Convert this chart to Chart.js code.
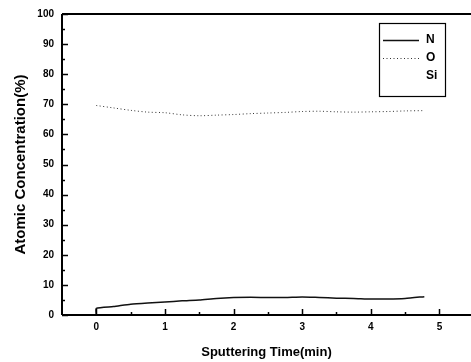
<!DOCTYPE html>
<html><head><meta charset="utf-8">
<script src="https://cdn.jsdelivr.net/npm/chart.js@4.4.1/dist/chart.umd.min.js"></script>
<style>html,body{margin:0;padding:0;background:#fff}#wrap{width:471px;height:362px}</style>
</head><body><div id="wrap"><canvas id="c" width="471" height="362"></canvas></div>
<script>
const seriesLabels = ["N", "O", "Si"];
const timeN = [0, 0, 0.25, 0.5, 0.75, 1.0, 1.25, 1.5, 1.75, 2.0, 2.25, 2.5, 2.75, 3.0, 3.25, 3.5, 3.75, 4.0, 4.25, 4.5, 4.78];
const valuesN = [0, 2.2, 2.8, 3.6, 4.0, 4.3, 4.7, 5.0, 5.5, 5.8, 5.9, 5.8, 5.8, 6.0, 5.8, 5.6, 5.5, 5.3, 5.3, 5.5, 6.1];
const timeO = [0, 0.25, 0.5, 0.75, 1.0, 1.25, 1.5, 1.75, 2.0, 2.25, 2.5, 2.75, 3.0, 3.25, 3.5, 3.75, 4.0, 4.25, 4.5, 4.78];
const valuesO = [69.6, 68.8, 68.0, 67.4, 67.2, 66.5, 66.2, 66.4, 66.6, 66.9, 67.1, 67.3, 67.6, 67.7, 67.5, 67.4, 67.5, 67.6, 67.8, 67.9];
const timeSi = [];
const valuesSi = [];
const xTicks = [0, 1, 2, 3, 4, 5];
const yTicks = [0, 10, 20, 30, 40, 50, 60, 70, 80, 90, 100];

const pts = (xs, ys) => xs.map((x, i) => ({x: x, y: ys[i]}));
const FONT = "'Liberation Sans', Arial, sans-serif";

const frame = {
  id: 'frame',
  afterDraw(chart) {
    const ctx = chart.ctx, a = chart.chartArea;
    const xs = chart.scales.x, ys = chart.scales.y;
    ctx.save();
    ctx.strokeStyle = '#000';
    ctx.lineWidth = 2;
    ctx.beginPath();
    ctx.moveTo(a.left, a.top); ctx.lineTo(a.right, a.top);
    ctx.moveTo(a.left, a.top); ctx.lineTo(a.left, a.bottom);
    ctx.moveTo(a.left, a.bottom); ctx.lineTo(a.right, a.bottom);
    ctx.stroke();
    ctx.lineWidth = 1.5;
    ctx.beginPath();
    for (let v = 0; v <= 100; v += 5) {
      const y = Math.round(ys.getPixelForValue(v)) + 0.5;
      const len = v % 10 === 0 ? 6 : 3;
      ctx.moveTo(a.left, y); ctx.lineTo(a.left + len, y);
    }
    for (let v = 0; v <= 5; v += 0.5) {
      const x = Math.round(xs.getPixelForValue(v)) + 0.5;
      const len = Number.isInteger(v) ? 6 : 3;
      ctx.moveTo(x, a.bottom); ctx.lineTo(x, a.bottom - len);
    }
    ctx.stroke();
    // legend box
    const bx = 379, by = 23, bw = 66, bh = 73;
    ctx.lineWidth = 1.2;
    ctx.strokeRect(bx + 0.5, by + 0.5, bw, bh);
    ctx.font = "bold 12px " + FONT;
    ctx.fillStyle = '#000';
    ctx.textBaseline = 'middle';
    const rows = [40, 58, 76];
    chart.data.datasets.forEach((ds, i) => {
      const y = rows[i];
      if (ds.data.length) {
        ctx.save();
        ctx.strokeStyle = ds.borderColor;
        ctx.lineWidth = ds.borderWidth;
        ctx.setLineDash(ds.borderDash || []);
        ctx.beginPath(); ctx.moveTo(bx + 4, y + 0.5); ctx.lineTo(bx + 40, y + 0.5); ctx.stroke();
        ctx.restore();
      }
      ctx.textAlign = 'left';
      ctx.fillText(ds.label, 426, y);
    });
    ctx.restore();
  }
};

new Chart(document.getElementById('c'), {
  type: 'scatter',
  data: {
    datasets: [
      {label: seriesLabels[0], data: pts(timeN, valuesN), showLine: true, borderColor: '#111', borderWidth: 1.5, pointRadius: 0, tension: 0.2},
      {label: seriesLabels[1], data: pts(timeO, valuesO), showLine: true, borderColor: '#333', borderWidth: 1, borderDash: [1, 2.5], pointRadius: 0, tension: 0.3},
      {label: seriesLabels[2], data: pts(timeSi, valuesSi), showLine: true, borderColor: '#111', borderWidth: 1, pointRadius: 0}
    ]
  },
  options: {
    responsive: false,
    animation: false,
    layout: {padding: {top: 12, right: 0, left: 0, bottom: 0}},
    plugins: {legend: {display: false}, tooltip: {enabled: false}},
    scales: {
      x: {
        type: 'linear', min: -0.5, max: 5.46,
        afterBuildTicks: s => { s.ticks = xTicks.map(v => ({value: v})); },
        afterFit: s => { s.height = 47; },
        grid: {display: false, drawTicks: false},
        border: {display: false},
        ticks: {color: '#000', padding: 6, font: {family: FONT, size: 10, weight: 'bold'}},
        title: {display: true, text: 'Sputtering Time(min)', color: '#000', padding: {top: 4, bottom: 2}, font: {family: FONT, size: 13, weight: 'bold'}}
      },
      y: {
        type: 'linear', min: 0, max: 100,
        afterBuildTicks: s => { s.ticks = yTicks.map(v => ({value: v})); },
        afterFit: s => { s.width = 62; },
        grid: {display: false, drawTicks: false},
        border: {display: false},
        ticks: {color: '#000', padding: 8, font: {family: FONT, size: 10, weight: 'bold'}},
        title: {display: true, text: 'Atomic Concentration(%)', color: '#000', padding: {top: 12, bottom: 4}, font: {family: FONT, size: 15, weight: 'bold'}}
      }
    }
  },
  plugins: [frame]
});
</script></body></html>
